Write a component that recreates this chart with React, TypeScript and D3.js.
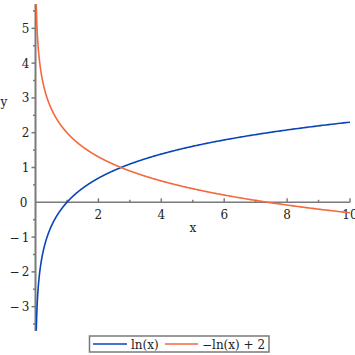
import React from "react";
import * as d3 from "d3";

const xTicks = [2, 4, 6, 8, 10];
const xMinorTicks = [1, 3, 5, 7, 9];
const yTicks = [-3, -2, -1, 1, 2, 3, 4, 5];
const yMinorTicks = [-3.5, -2.5, -1.5, -0.5, 0.5, 1.5, 2.5, 3.5, 4.5, 5.5];
const seriesNames = ["ln(x)", "\u2212ln(x) + 2"];
const seriesColors = ["#0a45b8", "#f4683c"];
const xMin = 0.025;
const xMax = 10;

export default function App() {
  const W = 355, H = 355;
  const x = d3.scaleLinear().domain([0, 10]).range([35.5, 350]);
  const y = d3.scaleLinear().domain([-3.7, 5.7]).range([331, 4]);
  const samples = d3.range(0, 601).map((i) => xMin * Math.pow(xMax / xMin, i / 600));
  const f1 = samples.map((v) => [v, Math.log(v)] as [number, number]);
  const f2 = samples.map((v) => [v, 2 - Math.log(v)] as [number, number]);
  const line = d3.line<[number, number]>().x((d) => x(d[0])).y((d) => y(d[1]));
  const axisColor = "#7a7a7a";
  const font = "'DejaVu Serif', 'Liberation Serif', serif";
  const fmt = (v: number) => (v < 0 ? "\u2212\u2009" + Math.abs(v) : String(v));
  const x0 = x(0), y0 = y(0);
  return (
    <svg width={W} height={H} style={{ position: "absolute", left: 0, top: 0, background: "#fff" }}>
      <defs>
        <clipPath id="clip">
          <rect x={x(0)} y={y(5.7)} width={x(10) - x(0) + 2} height={y(-3.7) - y(5.7)} />
        </clipPath>
      </defs>
      <line x1={x0} x2={x0} y1={y(5.7)} y2={y(-3.7)} stroke={axisColor} strokeWidth={2} />
      <line x1={x0} x2={x(10)} y1={y0} y2={y0} stroke={axisColor} strokeWidth={1.5} />
      {xTicks.map((t) => (
        <g key={"xt" + t}>
          <line x1={x(t)} x2={x(t)} y1={y0} y2={y0 - 4} stroke={axisColor} strokeWidth={1.5} />
          <text x={x(t)} y={y0 + 17} textAnchor="middle" fontFamily={font} fontSize={12} fill="#222">{t}</text>
        </g>
      ))}
      {xMinorTicks.map((t) => (
        <line key={"xm" + t} x1={x(t)} x2={x(t)} y1={y0} y2={y0 - 2.5} stroke={axisColor} strokeWidth={1.5} />
      ))}
      {yTicks.map((t) => (
        <g key={"yt" + t}>
          <line x1={x0 - 4} x2={x0} y1={y(t)} y2={y(t)} stroke={axisColor} strokeWidth={1.5} />
          <text x={x0 - 6} y={y(t) + 4.5} textAnchor="end" fontFamily={font} fontSize={12} fill="#222">{fmt(t)}</text>
        </g>
      ))}
      <text x={x0 - 8} y={y0 + 4.5} textAnchor="end" fontFamily={font} fontSize={12} fill="#222">0</text>
      {yMinorTicks.map((t) => (
        <line key={"ym" + t} x1={x0 - 2.5} x2={x0} y1={y(t)} y2={y(t)} stroke={axisColor} strokeWidth={1.5} />
      ))}
      <text x={4} y={106} textAnchor="middle" fontFamily={font} fontSize={12} fill="#222">y</text>
      <text x={193} y={232} textAnchor="middle" fontFamily={font} fontSize={12} fill="#222">x</text>
      <g clipPath="url(#clip)">
        <path d={line(f1) || ""} fill="none" stroke={seriesColors[0]} strokeWidth={1.6} />
        <path d={line(f2) || ""} fill="none" stroke={seriesColors[1]} strokeWidth={1.6} />
      </g>
      <rect x={89.5} y={336} width={179.5} height={16} fill="#fff" stroke={axisColor} strokeWidth={1.5} />
      <line x1={93} x2={127} y1={344} y2={344} stroke={seriesColors[0]} strokeWidth={1.6} />
      <text x={131} y={348.5} fontFamily={font} fontSize={12} fill="#222">{seriesNames[0]}</text>
      <line x1={165} x2={198} y1={344} y2={344} stroke={seriesColors[1]} strokeWidth={1.6} />
      <text x={202} y={348.5} fontFamily={font} fontSize={12} fill="#222">{seriesNames[1]}</text>
    </svg>
  );
}
